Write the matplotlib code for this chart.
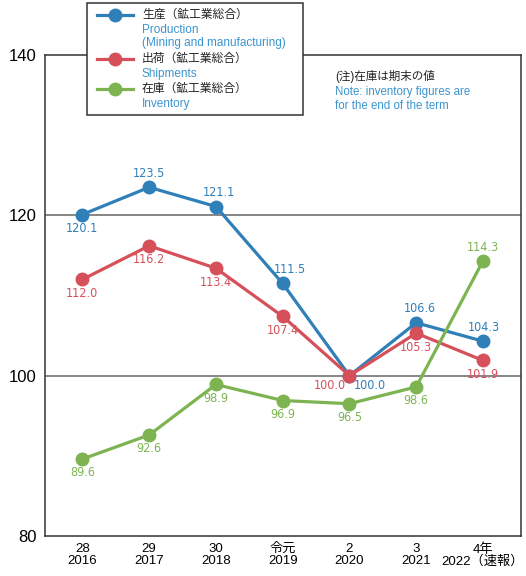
import matplotlib.pyplot as plt
from matplotlib.lines import Line2D
from matplotlib.patches import Rectangle

plt.rcParams['font.family'] = ['Liberation Sans', 'Noto Sans CJK JP', 'DejaVu Sans']

# years (wareki / seireki)
year_labels = ['28\n2016', '29\n2017', '30\n2018', '令元\n2019', '2\n2020', '3\n2021', '4年\n2022（速報）']
production = [120.1, 123.5, 121.1, 111.5, 100.0, 106.6, 104.3]
shipments = [112.0, 116.2, 113.4, 107.4, 100.0, 105.3, 101.9]
inventory = [89.6, 92.6, 98.9, 96.9, 96.5, 98.6, 114.3]

# label placement: offsets in points
prod_off = [(0, -10), (0, 10), (2, 10), (5, 10), (15, -7), (3, 10), (1, 10)]
ship_off = [(0, -10), (0, -10), (0, -10), (0, -10), (-14, -7), (0, -10), (0, -10)]
inv_off = [(0, -10), (0, -10), (0, -10), (0, -10), (0, -10), (0, -10), (0, 10)]

blue = '#2f7fb8'
red = '#d6505a'
green = '#7db451'
blue_txt = '#3a94cf'

W, H = 526, 576
fig = plt.figure(figsize=(W / 100, H / 100), dpi=100)
ax = fig.add_axes([45 / W, 1 - 536 / H, (521 - 45) / W, (536 - 55) / H])

x = list(range(len(year_labels)))
series = [(production, blue, prod_off), (shipments, red, ship_off), (inventory, green, inv_off)]
for vals, col, offs in series:
    ax.plot(x, vals, color=col, lw=2.3, marker='o', ms=9, zorder=3)
    for xi, v, off in zip(x, vals, offs):
        ax.annotate(f'{v:.1f}', (xi, v), xytext=off, textcoords='offset points',
                    ha='center', va='center', fontsize=9, color=col,
                    family=['Liberation Sans Narrow', 'DejaVu Sans'], stretch='condensed')

ax.set_ylim(80, 140)
ax.set_xlim(-0.56, 6.57)
ax.set_yticks([80, 100, 120, 140])
ax.set_xticks(x)
ax.set_xticklabels(year_labels, fontsize=9.5, linespacing=1.0)
ax.tick_params(length=0, pad=5)
ax.tick_params(axis='y', labelsize=12, pad=6)
for yv in [100, 120]:
    ax.axhline(yv, color='#666666', lw=1.1, zorder=1)
for s in ax.spines.values():
    s.set_color('#333333')
    s.set_linewidth(1.1)

# legend box drawn by hand
def fy(py):
    return 1 - py / H

fig.patches.append(Rectangle((87 / W, fy(115)), (303 - 87) / W, (115 - 3) / H,
                             transform=fig.transFigure, facecolor='white',
                             edgecolor='#333333', lw=1.1, zorder=5))
legend_rows = [
    (blue, 15, '生産（鉱工業総合）', ['Production', '(Mining and manufacturing)']),
    (red, 59, '出荷（鉱工業総合）', ['Shipments']),
    (green, 89, '在庫（鉱工業総合）', ['Inventory']),
]
for col, py, jp, en in legend_rows:
    fig.add_artist(Line2D([97 / W, 133 / W], [fy(py), fy(py)], color=col, lw=2.3,
                          transform=fig.transFigure, zorder=6))
    fig.add_artist(Line2D([115 / W], [fy(py)], color=col, marker='o', ms=9,
                          transform=fig.transFigure, zorder=6))
    fig.text(142 / W, fy(py), jp, fontsize=8.5, va='center', color='#222222', zorder=6)
    for i, t in enumerate(en):
        fig.text(142 / W, fy(py + 15 + 13 * i), t, fontsize=8.5, va='center',
                 color=blue_txt, zorder=6)

fig.text(335 / W, fy(76), '(注)在庫は期末の値', fontsize=8.3, va='center', color='#222222')
fig.text(335 / W, fy(92), 'Note: inventory figures are', fontsize=8.3, va='center', color=blue_txt)
fig.text(335 / W, fy(106), 'for the end of the term', fontsize=8.3, va='center', color=blue_txt)

fig.savefig('out.png', dpi=100)
